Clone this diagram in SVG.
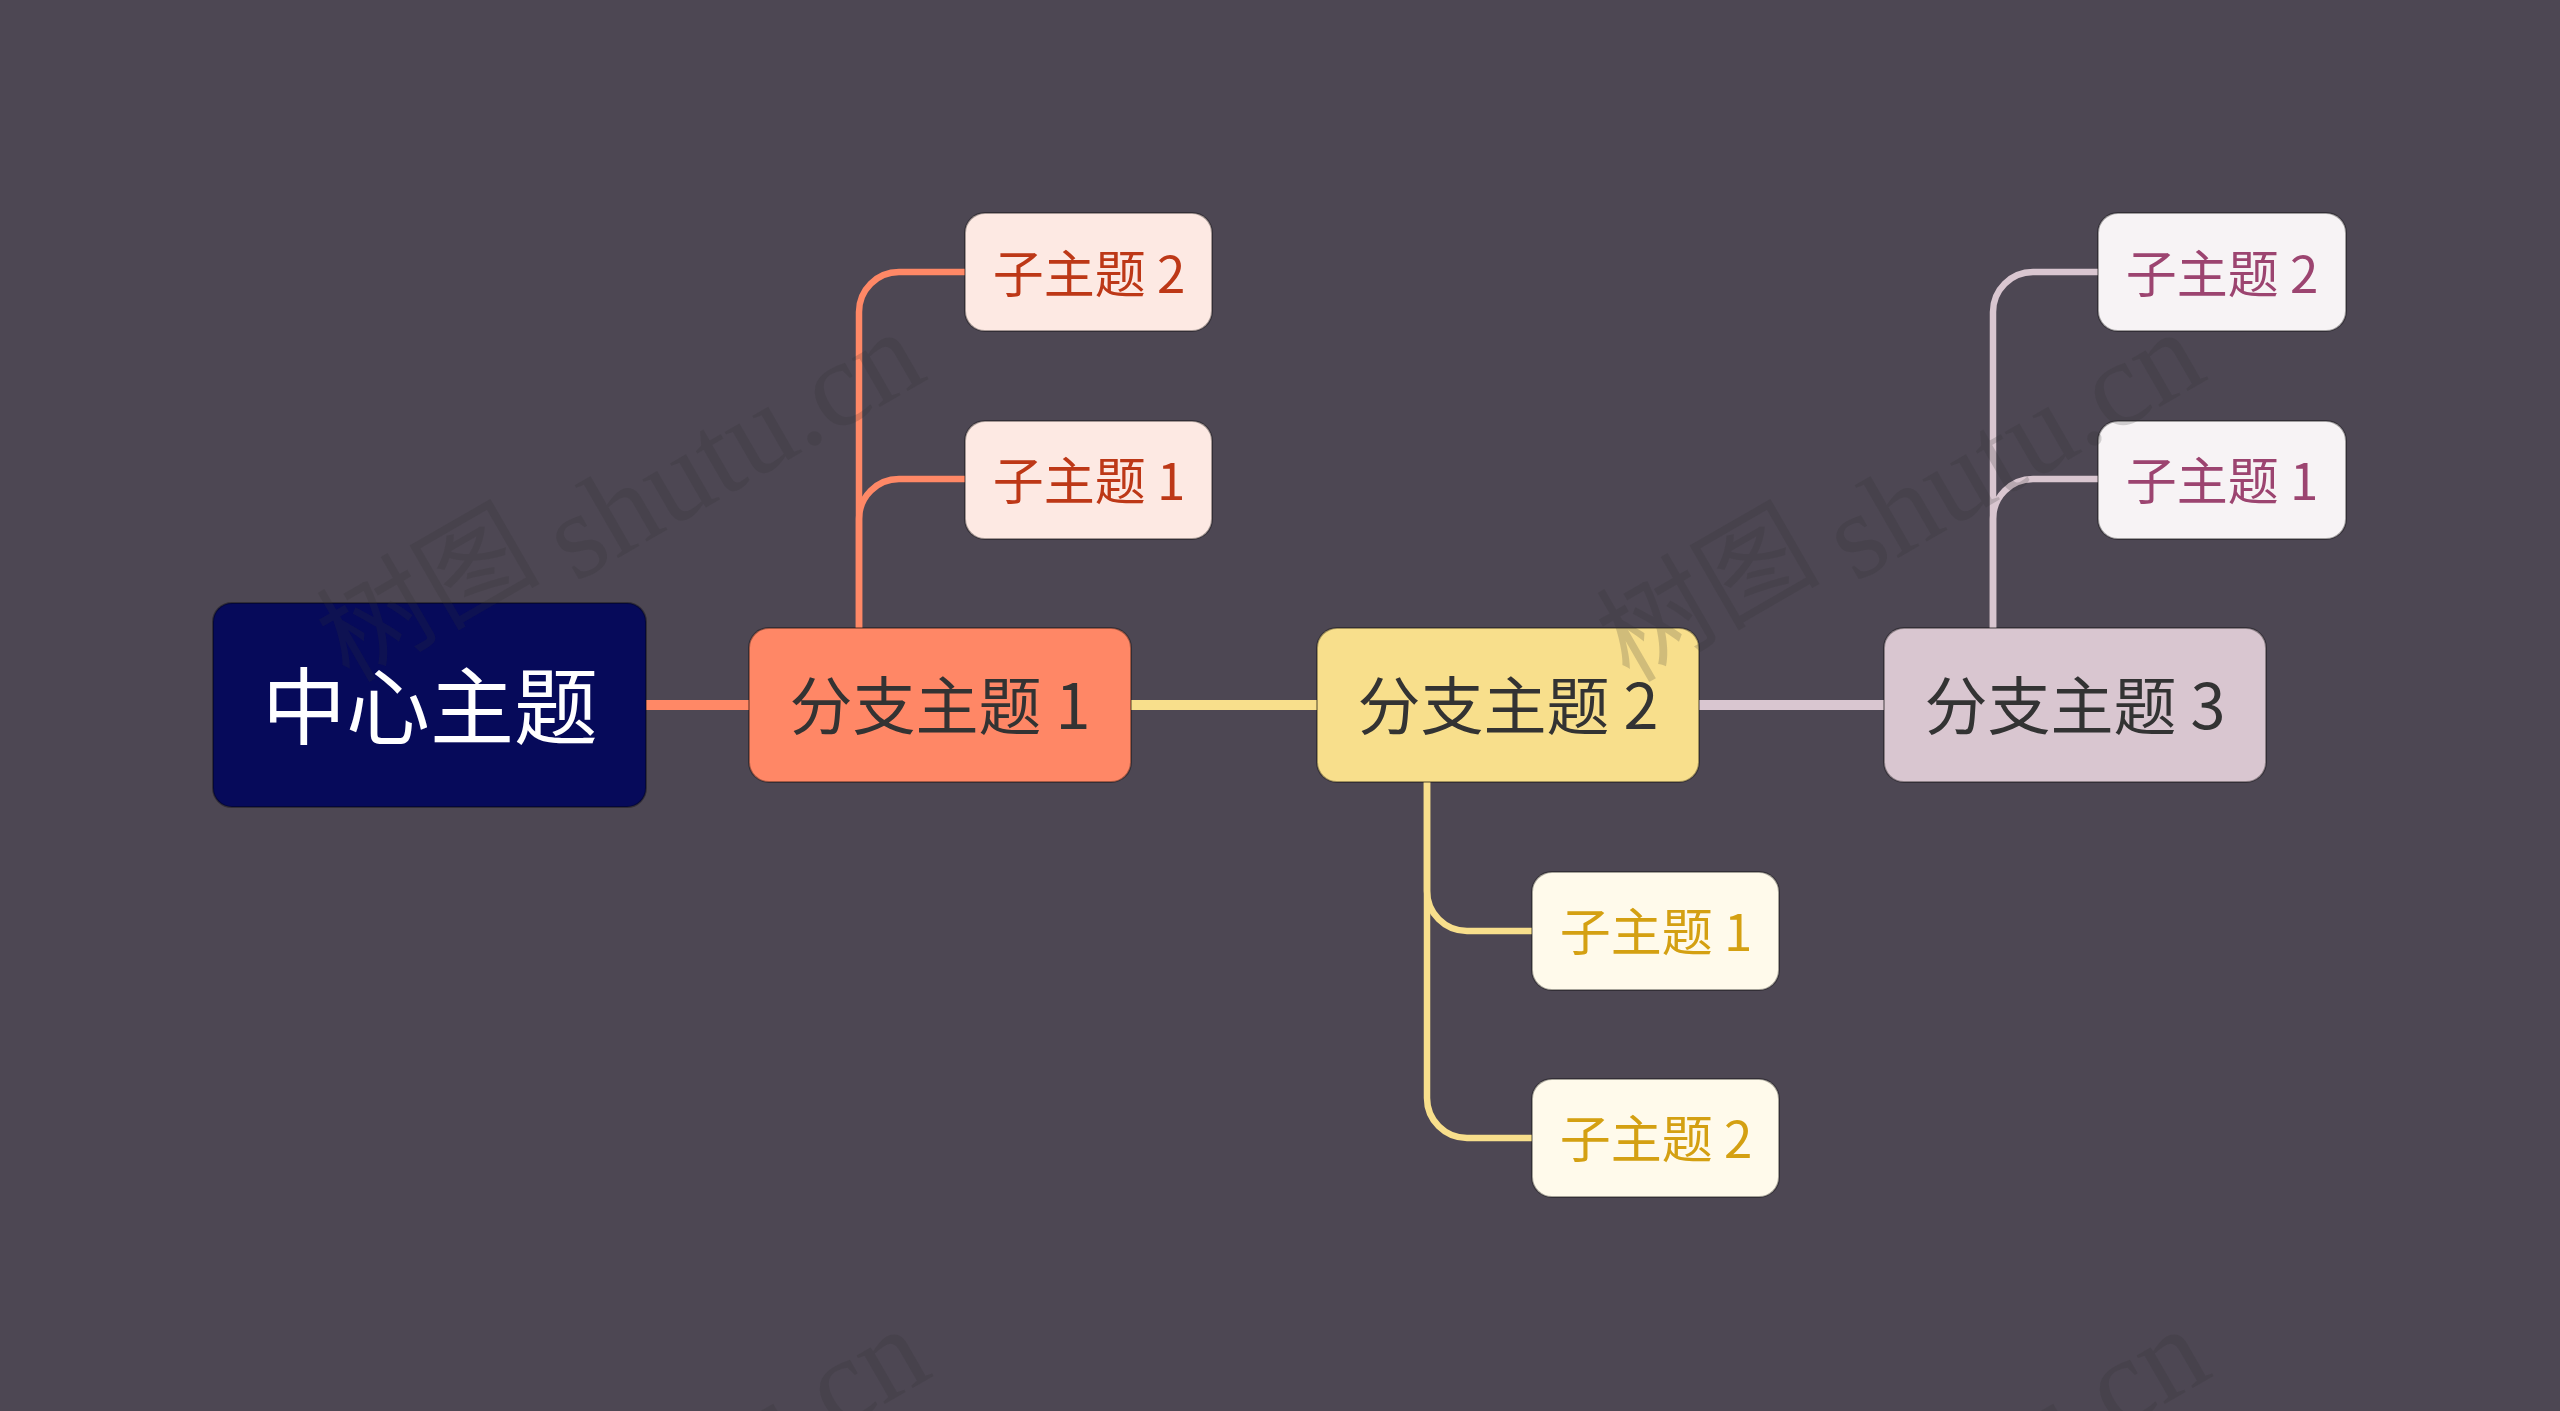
<svg xmlns="http://www.w3.org/2000/svg" width="2560" height="1411" viewBox="0 0 2560 1411">
  <defs>
    <style>
      .node { stroke: rgba(0,0,0,0.35); stroke-width: 2; }
      .t { font-family: "Noto Sans CJK SC", "Noto Sans", sans-serif; text-anchor: middle; }
      .main { fill: none; stroke-width: 10; }
      .sub { fill: none; stroke-width: 6.5; stroke-linecap: butt; }
      .wm { font-family: "Liberation Serif", "Noto Sans CJK SC", serif; font-size: 122px; fill: #333333; fill-opacity: 0.2; }
      .wmc { font-family: "Noto Sans CJK SC", sans-serif; font-size: 112px; fill: #333333; fill-opacity: 0.2; text-anchor: end; }
    </style>
  </defs>
  <rect x="0" y="0" width="2560" height="1411" fill="#4d4753"/>

  <g id="connectors">
    <line class="main" x1="645" y1="705" x2="750" y2="705" stroke="#ff8866"/>
    <line class="main" x1="1130" y1="705" x2="1318" y2="705" stroke="#f8df8c"/>
    <line class="main" x1="1698" y1="705" x2="1884" y2="705" stroke="#d9c6d0"/>
    <path class="sub" stroke="#ff8866" d="M859 630 V312 A40 40 0 0 1 899 272 H966"/>
    <path class="sub" stroke="#ff8866" d="M859 630 V519 A40 40 0 0 1 899 479 H966"/>
    <path class="sub" stroke="#f8df8c" d="M1427 782 V891 A40 40 0 0 0 1467 931 H1532"/>
    <path class="sub" stroke="#f8df8c" d="M1427 782 V1098 A40 40 0 0 0 1467 1138 H1532"/>
    <path class="sub" stroke="#d9c6d0" d="M1993 630 V312 A40 40 0 0 1 2033 272 H2099"/>
    <path class="sub" stroke="#d9c6d0" d="M1993 630 V519 A40 40 0 0 1 2033 479 H2099"/>
  </g>

  <g id="center">
    <rect class="node" x="213" y="603" width="433" height="204" rx="19" fill="#060a5a"/>
    <text class="t" x="430" y="738" font-size="84" fill="#ffffff">中心主题</text>
  </g>

  <g id="branch1">
    <rect class="node" x="749" y="628" width="382" height="154" rx="20" fill="#ff8766"/>
    <text class="t" x="940" y="729" font-size="63" fill="#333333">分支主题 1</text>
  </g>
  <g id="branch1-sub2">
    <rect class="node" x="965" y="213" width="247" height="118" rx="20" fill="#fde9e3"/>
    <text class="t" x="1089" y="293" font-size="51" fill="#bd3817">子主题 2</text>
  </g>
  <g id="branch1-sub1">
    <rect class="node" x="965" y="421" width="247" height="118" rx="20" fill="#fde9e3"/>
    <text class="t" x="1089" y="500" font-size="51" fill="#bd3817">子主题 1</text>
  </g>

  <g id="branch2">
    <rect class="node" x="1317" y="628" width="382" height="154" rx="20" fill="#f8df8c"/>
    <text class="t" x="1508" y="729" font-size="63" fill="#333333">分支主题 2</text>
  </g>
  <g id="branch2-sub1">
    <rect class="node" x="1532" y="872" width="247" height="118" rx="20" fill="#fffaeb"/>
    <text class="t" x="1656" y="951" font-size="51" fill="#d4a012">子主题 1</text>
  </g>
  <g id="branch2-sub2">
    <rect class="node" x="1532" y="1079" width="247" height="118" rx="20" fill="#fffaeb"/>
    <text class="t" x="1656" y="1158" font-size="51" fill="#d4a012">子主题 2</text>
  </g>

  <g id="branch3">
    <rect class="node" x="1884" y="628" width="382" height="154" rx="20" fill="#d9c6d0"/>
    <text class="t" x="2075" y="729" font-size="63" fill="#333333">分支主题 3</text>
  </g>
  <g id="branch3-sub2">
    <rect class="node" x="2098" y="213" width="248" height="118" rx="20" fill="#f7f3f5"/>
    <text class="t" x="2222" y="293" font-size="51" fill="#9c4470">子主题 2</text>
  </g>
  <g id="branch3-sub1">
    <rect class="node" x="2098" y="421" width="248" height="118" rx="20" fill="#f7f3f5"/>
    <text class="t" x="2222" y="500" font-size="51" fill="#9c4470">子主题 1</text>
  </g>

  <g id="watermark">
    <g transform="translate(575 583) rotate(-30)">
      <text class="wmc" x="-22" y="-26">树图</text>
      <text class="wm" x="0" y="0">shutu.cn</text>
    </g>
    <g transform="translate(1855 583) rotate(-30)">
      <text class="wmc" x="-22" y="-26">树图</text>
      <text class="wm" x="0" y="0">shutu.cn</text>
    </g>
    <g transform="translate(580 1580) rotate(-30)">
      <text class="wm" x="0" y="0">shutu.cn</text>
    </g>
    <g transform="translate(1860 1580) rotate(-30)">
      <text class="wm" x="0" y="0">shutu.cn</text>
    </g>
  </g>
</svg>
